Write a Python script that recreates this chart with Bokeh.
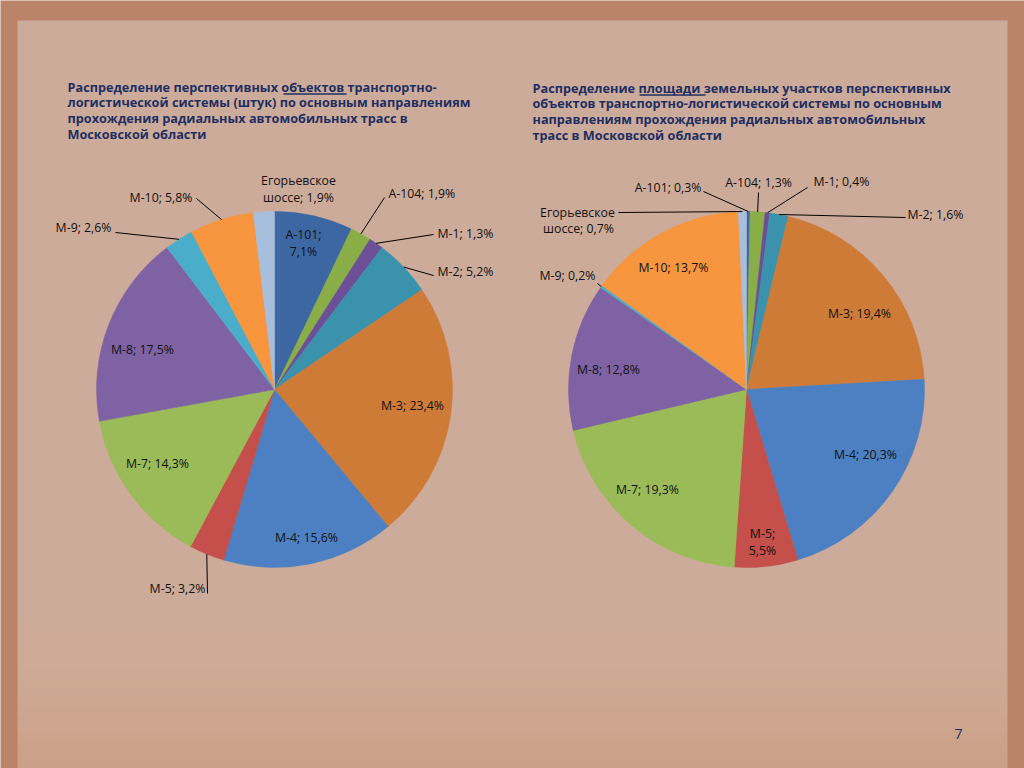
import math
from bokeh.plotting import figure
from bokeh.models import Range1d, ColumnDataSource
from bokeh.embed import file_html
from bokeh.resources import INLINE
from bokeh.core.properties import value

# ---------------- data ----------------
categories = ["А-101", "А-104", "М-1", "М-2", "М-3", "М-4", "М-5",
              "М-7", "М-8", "М-9", "М-10", "Егорьевское шоссе"]
objects_share = [7.1, 1.9, 1.3, 5.2, 23.4, 15.6, 3.2, 14.3, 17.5, 2.6, 5.8, 1.9]
area_share = [0.3, 1.3, 0.4, 1.6, 19.4, 20.3, 5.5, 19.3, 12.8, 0.2, 13.7, 0.7]
colors = ["#3d67a3", "#89ad47", "#6c4f96", "#3a92ac", "#cf7b38", "#4c80c2",
          "#c44f4b", "#9bbb59", "#7f62a4", "#4aaeca", "#f7963f", "#a8bedd"]

title_left = ["Распределение перспективных объектов транспортно-",
              "логистической системы (штук) по основным направлениям",
              "прохождения радиальных автомобильных трасс в",
              "Московской области"]
title_right = ["Распределение площади земельных участков перспективных",
               "объектов транспортно-логистической системы  по основным",
               "направлениям прохождения радиальных автомобильных",
               "трасс в Московской области"]
page_number = "7"

# ---------------- layout / style ----------------
W, H = 1024, 768
FONT = "Open Sans"
TITLE_COLOR = "#1d2f62"
LABEL_COLOR = "#111111"
LABEL_SIZE = "12.3px"
TITLE_SIZE = "12.7px"
BORDER = "#bb8367"
PANEL = "#dcc0b0"
R = 178


def Y(v):
    return 768 - v


p = figure(width=W, height=H, x_range=Range1d(0, 1024), y_range=Range1d(0, 768),
           output_backend="svg", toolbar_location=None, min_border=0)
p.axis.visible = False
p.grid.visible = False
p.outline_line_color = None
p.background_fill_color = BORDER
p.border_fill_color = BORDER

# slide panel, fading toward the bottom (overlapping layers avoid seams)
p.quad(left=[17], right=[1007], top=[Y(20)], bottom=[Y(768)],
       fill_color=PANEL, fill_alpha=0.45, line_color=None)
steps = 20
for i in range(steps):
    bottom = 590 + (i + 1) * (178 / steps)
    p.quad(left=[17], right=[1007], top=[Y(20)], bottom=[Y(bottom)],
           fill_color=PANEL, fill_alpha=0.06, line_color=None)

# layout of labels: index -> (line positions, align, leader end or None)
labels_left = {
    0: ([(303, 234), (303, 251)], "center", None),
    1: ([(388, 193)], "left", (384, 197)),
    2: ([(437, 233)], "left", (433, 234)),
    3: ([(437, 271)], "left", (433, 275)),
    4: ([(412, 405)], "center", None),
    5: ([(306, 537)], "center", None),
    6: ([(205, 588)], "right", (207, 593)),
    7: ([(157, 463)], "center", None),
    8: ([(142, 349)], "center", None),
    9: ([(111, 227)], "right", (115, 232)),
    10: ([(192, 197)], "right", (196, 198)),
    11: ([(298, 180), (298, 197)], "center", None),
}
labels_right = {
    0: ([(701, 187)], "right", (703, 191)),
    1: ([(758, 182)], "center", (758, 192)),
    2: ([(813, 181)], "left", (807, 187)),
    3: ([(907, 214)], "left", (905, 217)),
    4: ([(859, 313)], "center", None),
    5: ([(865, 454)], "center", None),
    6: ([(762, 533), (762, 550)], "center", None),
    7: ([(647, 489)], "center", None),
    8: ([(608, 369)], "center", None),
    9: ([(567, 275)], "center", (597, 283)),
    10: ([(673, 267)], "center", None),
    11: ([(577, 212), (578, 228)], "center", (618, 212)),
}
two_line_break = {("left", 0): "А-101;|{v}", ("left", 11): "Егорьевское|шоссе; {v}",
                  ("right", 6): "М-5;|{v}", ("right", 11): "Егорьевское|шоссе; {v}"}


def fmt(v):
    return ("%.1f" % v).replace(".", ",") + "%"


def draw_pie(side, cx, cy, vals, layout):
    total = sum(vals)
    starts, ends, mids = [], [], []
    acc = 0.0
    for v in vals:
        a0 = math.pi / 2 - 2 * math.pi * acc / total
        acc += v
        a1 = math.pi / 2 - 2 * math.pi * acc / total
        starts.append(a0)
        ends.append(a1)
        mids.append((a0 + a1) / 2)
    src = ColumnDataSource(dict(start=starts, end=ends, color=colors,
                                x=[cx] * len(vals), y=[Y(cy)] * len(vals)))
    p.wedge(x="x", y="y", radius=R, start_angle="start", end_angle="end",
            direction="clock", fill_color="color", line_color="color",
            line_width=0.5, source=src)

    lx0, ly0, lx1, ly1 = [], [], [], []
    for i, v in enumerate(vals):
        positions, align, leader = layout[i]
        key = (side, i)
        if key in two_line_break:
            lines = two_line_break[key].format(v=fmt(v)).split("|")
        else:
            lines = ["%s; %s" % (categories[i], fmt(v))]
        p.text(x=[q[0] for q in positions], y=[Y(q[1]) for q in positions],
               text=lines, text_font=value(FONT), text_font_size=LABEL_SIZE,
               text_color=LABEL_COLOR, text_align=align, text_baseline="middle")
        if leader is not None:
            ex = cx + R * math.cos(mids[i])
            ey = Y(cy) + R * math.sin(mids[i])
            lx0.append(ex); ly0.append(ey)
            lx1.append(leader[0]); ly1.append(Y(leader[1]))
    if lx0:
        p.segment(x0=lx0, y0=ly0, x1=lx1, y1=ly1, line_color="#000000", line_width=1)


draw_pie("left", 274, 389, objects_share, labels_left)
draw_pie("right", 746, 389, area_share, labels_right)

# titles
for k, line in enumerate(title_left):
    p.text(x=[67], y=[Y(86 + k * 15.7)], text=[line], text_font=value(FONT),
           text_font_style="bold", text_font_size=TITLE_SIZE, text_color=TITLE_COLOR,
           text_align="left", text_baseline="middle")
for k, line in enumerate(title_right):
    p.text(x=[532], y=[Y(87 + k * 15.7)], text=[line], text_font=value(FONT),
           text_font_style="bold", text_font_size=TITLE_SIZE, text_color=TITLE_COLOR,
           text_align="left", text_baseline="middle")
# underlines of the emphasised words
p.segment(x0=[283, 639], y0=[Y(93.5), Y(94.5)], x1=[346, 705], y1=[Y(93.5), Y(94.5)],
          line_color=TITLE_COLOR, line_width=1.3)

p.text(x=[958], y=[Y(733)], text=[page_number], text_font=value(FONT),
       text_font_size="14px", text_color="#1d2f62", text_align="center",
       text_baseline="middle")

open("out.html", "w").write(file_html(p, INLINE))
